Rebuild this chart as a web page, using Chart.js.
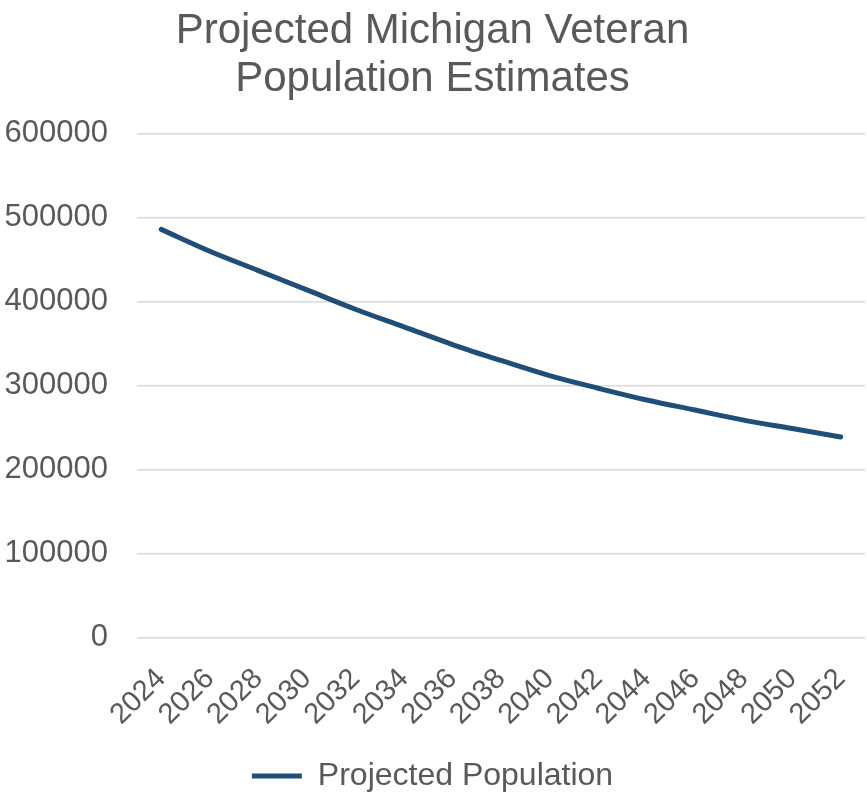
<!DOCTYPE html>
<html>
<head>
<meta charset="utf-8">
<script src="https://cdn.jsdelivr.net/npm/chart.js@4"></script>
<style>
  body { margin: 0; background: #fff; }
</style>
</head>
<body>
<canvas id="graficoVeteranos" width="867" height="796"></canvas>
<script>
// dados
var anos = ["2024","2026","2028","2030","2032","2034","2036","2038","2040","2042","2044","2046","2048","2050","2052"];
var populacao = [486000, 460000, 437000, 414000, 391000, 370000, 349000, 330000, 312000, 297000, 283000, 271000, 259000, 249000, 239000];
var ticksY = [0, 100000, 200000, 300000, 400000, 500000, 600000];

var cinza = "#595959";
var azul = "#1F4E79";

var ctx = document.getElementById("graficoVeteranos").getContext('2d');
var grafico = new Chart(ctx, {
    type: 'line',
    data: {
        labels: anos,
        datasets: [
            {
                label: "Projected Population",
                data: populacao,
                borderColor: azul,
                backgroundColor: azul,
                borderWidth: 5,
                borderCapStyle: 'round',
                pointRadius: 0,
                tension: 0.35
            }
        ]
    },
    options: {
        responsive: false,
        animation: false,
        layout: { padding: { left: 0, right: 2, top: 0, bottom: -6 } },
        plugins: {
            title: {
                display: true,
                text: ['Projected Michigan Veteran', 'Population Estimates'],
                color: cinza,
                font: { family: 'Liberation Sans, Arial', size: 42, weight: 'normal', lineHeight: 1.15 },
                padding: { top: 7, bottom: 30 }
            },
            legend: {
                position: 'bottom',
                labels: {
                    color: cinza,
                    font: { family: 'Liberation Sans, Arial', size: 32 },
                    boxWidth: 50,
                    boxHeight: 5,
                    padding: 12,
                    generateLabels: function (chart) {
                        var itens = Chart.defaults.plugins.legend.labels.generateLabels(chart);
                        itens.forEach(function (item) {
                            item.lineWidth = 0;
                            item.fillStyle = azul;
                        });
                        return itens;
                    }
                }
            },
            tooltip: { enabled: false }
        },
        scales: {
            x: {
                offset: true,
                grid: { display: false },
                border: { display: false },
                ticks: {
                    color: cinza,
                    font: { family: 'Liberation Sans, Arial', size: 29 },
                    maxRotation: 45,
                    minRotation: 45,
                    autoSkip: false,
                    padding: 16
                },
                afterFit: function (eixo) {
                    // nao reservar espaco extra pelos rotulos inclinados
                    eixo.paddingLeft = 0;
                    eixo.paddingRight = 0;
                }
            },
            y: {
                min: 0,
                max: 600000,
                afterBuildTicks: function (eixo) {
                    eixo.ticks = ticksY.map(function (v) { return { value: v }; });
                },
                afterFit: function (eixo) {
                    eixo.width = 137;
                },
                grid: { color: "#D9D9D9", lineWidth: 1.5, drawTicks: false },
                border: { display: false },
                ticks: {
                    color: cinza,
                    font: { family: 'Liberation Sans, Arial', size: 31 },
                    padding: 29,
                    callback: function (valor) { return String(valor); }
                }
            }
        }
    }
});
</script>
</body>
</html>
